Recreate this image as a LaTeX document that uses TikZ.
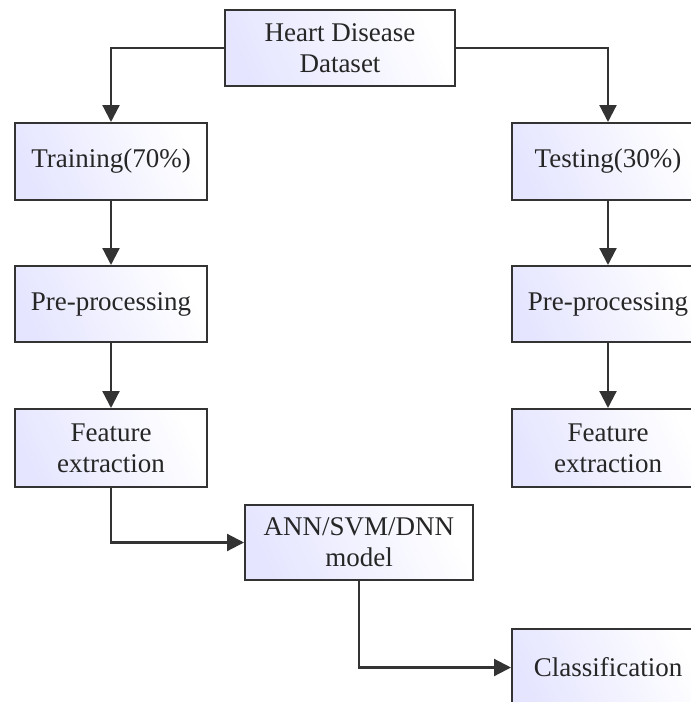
\documentclass[tikz,border=0pt]{standalone}
\usepackage{fontspec}
\setmainfont{Liberation Serif}
\usetikzlibrary{arrows.meta,positioning,calc}

\tikzset{
  stagebox/.style={draw=black!80, line width=2pt, text=black!85,
    left color=blue!10, right color=white, shading angle=115,
    minimum height=76pt, align=center, inner sep=2pt},
  flow/.style={draw=black!80, line width=2.2pt, -{Triangle[length=17pt,width=17pt]}}
}

\begin{document}
\begin{tikzpicture}[x=1pt, y=-1pt, font=\fontsize{27}{31}\selectfont]
    \useasboundingbox (0,0) rectangle (691,702);

    % Dataset on top
    \node[stagebox, minimum width=230pt] (data) at (340,48) {Heart Disease\\Dataset};

    % Training branch
    \node[stagebox, minimum width=192pt, minimum height=77pt] (train) at (111,161.5) {Training(70\%)};
    \node[stagebox, minimum width=192pt] (pretrain) at (111,304) {Pre-processing};
    \node[stagebox, minimum width=192pt, minimum height=78pt] (feattrain) at (111,448) {Feature\\extraction};

    % Testing branch (cut by the right margin)
    \node[stagebox, minimum width=192pt, minimum height=77pt] (test) at (608,161.5) {Testing(30\%)};
    \node[stagebox, minimum width=192pt] (pretest) at (608,304) {Pre-processing};
    \node[stagebox, minimum width=192pt, minimum height=78pt] (feattest) at (608,448) {Feature\\extraction};

    % Model and result
    \node[stagebox, minimum width=228pt, minimum height=75pt] (model) at (359,542.5) {ANN/SVM/DNN\\model};
    \node[stagebox, minimum width=192pt, minimum height=77pt] (classify) at (608,667.5) {Classification};

    % Connectors
    \draw[flow] (data.west) -| (train.north);
    \draw[flow] (data.east) -| (test.north);
    \draw[flow] (train) -- (pretrain);
    \draw[flow] (pretrain) -- (feattrain);
    \draw[flow] (test) -- (pretest);
    \draw[flow] (pretest) -- (feattest);
    \draw[flow] (feattrain.south) |- (model.west);
    \draw[flow] (model.south) |- (classify.west);
\end{tikzpicture}
\end{document}
